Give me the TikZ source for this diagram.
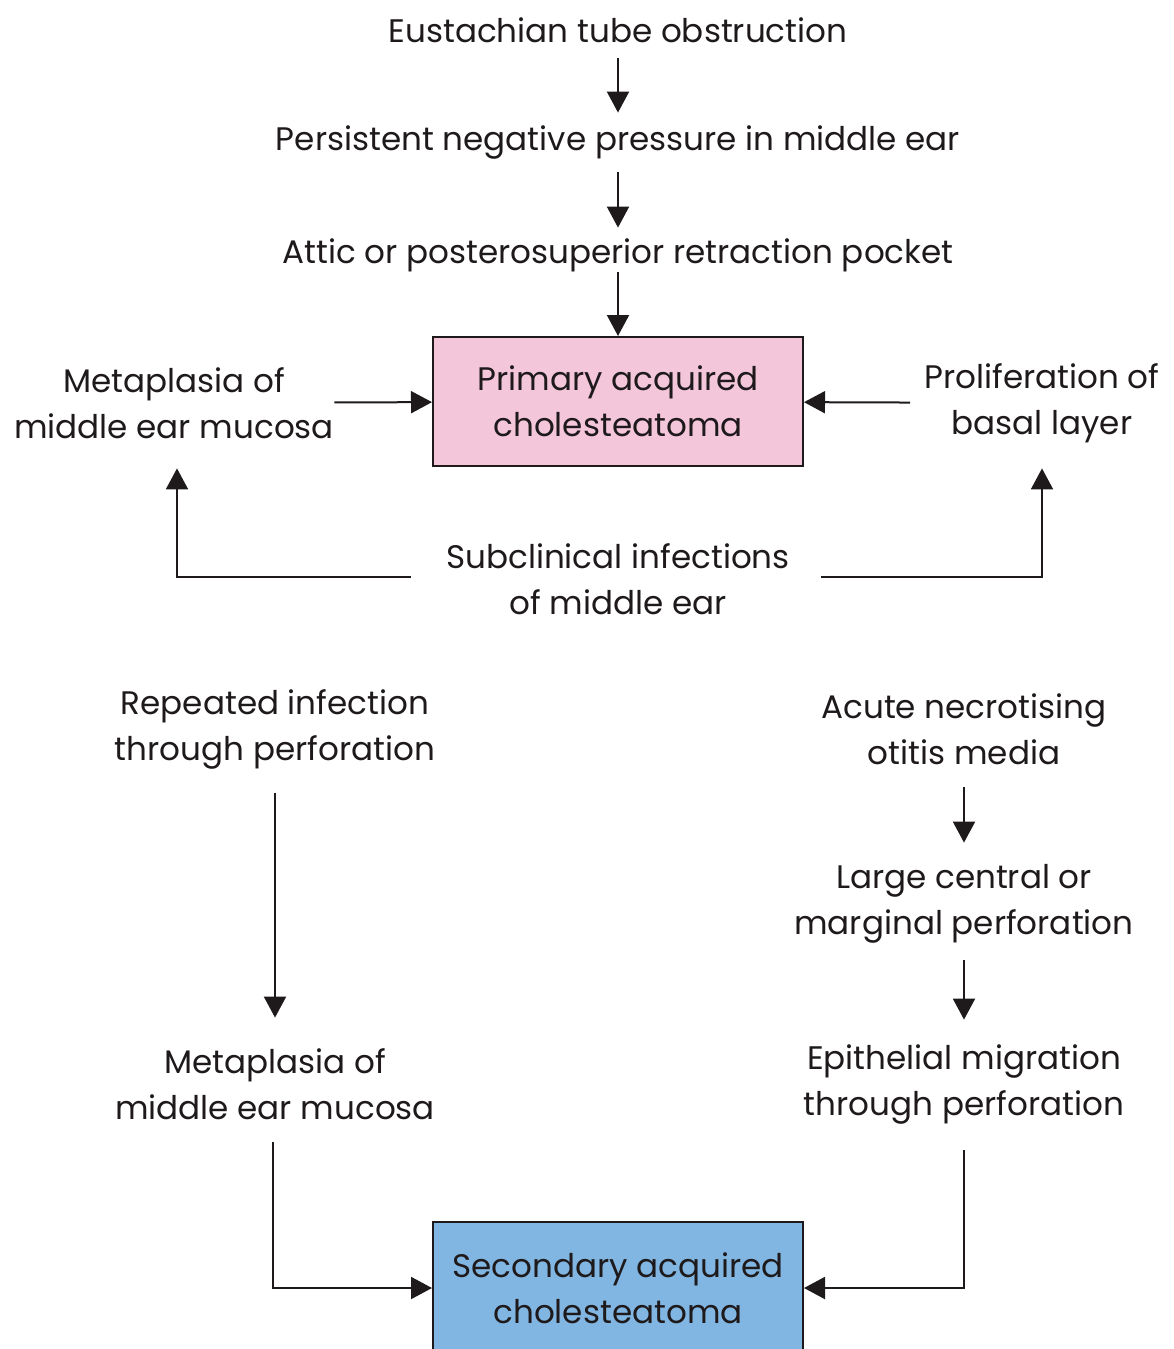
\documentclass[tikz,border=0pt]{standalone}
\usepackage{fontspec}
\setmainfont{Poppins}
\usetikzlibrary{arrows.meta,positioning}
\definecolor{cpink}{HTML}{F4C6DA}
\definecolor{cblue}{HTML}{82B6E2}
\definecolor{cink}{HTML}{1E1A1C}
\tikzset{
  txt/.style={align=center,font=\fontsize{16.3}{23}\selectfont,text=cink,inner sep=0pt,minimum height=23pt},
  txttwo/.style={txt,minimum height=46pt},
  bigbox/.style={draw=cink,line width=1pt,align=center,font=\fontsize{16.3}{23}\selectfont,text=cink,minimum width=185pt,inner sep=0pt},
  arr/.style={-{Triangle[length=10.5pt,width=11pt]},line width=1pt,draw=cink},
}
\begin{document}
\begin{tikzpicture}[x=0.5pt,y=-0.5pt]
  \useasboundingbox (0,0) rectangle (1173,1349);
  % primary pathway
  \node[txt] (eust) at (618,30) {Eustachian tube obstruction};
  \node[txt] (press) at (618,142) {Persistent negative pressure in middle ear};
  \node[txt] (attic) at (618,255) {Attic or posterosuperior retraction pocket};
  \node[bigbox,fill=cpink,minimum height=64.5pt] (prim) at (618,401.5) {Primary acquired\\cholesteatoma};
  \node[txttwo] (metaA) at (174,403) {Metaplasia of\\middle ear mucosa};
  \node[txttwo] (prolif) at (1042,403) {Proliferation of\\basal layer};
  \node[txttwo] (subcl) at (618,579) {Subclinical infections\\of middle ear};
  \draw[arr,shorten <=2.5pt,shorten >=3pt] (eust) -- (press);
  \draw[arr,shorten <=3.5pt,shorten >=2pt] (press) -- (attic);
  \draw[arr,shorten <=-3pt] (attic) -- (prim);
  \draw[arr] (metaA) -- (prim);
  \draw[arr,shorten <=7pt] (prolif) -- (prim);
  \draw[arr,shorten <=17.5pt,shorten >=9.5pt] ([yshift=1pt]subcl.west) -| ([xshift=1.5pt]metaA.south);
  \draw[arr,shorten <=15.5pt,shorten >=9.5pt] ([yshift=1pt]subcl.east) -| (prolif.south);
  % secondary pathway
  \node[txttwo] (repeat) at (275,729) {Repeated infection\\through perforation};
  \node[txttwo] (acute) at (964,729) {Acute necrotising\\otitis media};
  \node[txttwo] (large) at (964,904) {Large central or\\marginal perforation};
  \node[txttwo] (metaB) at (275,1084) {Metaplasia of\\middle ear mucosa};
  \node[txttwo] (epith) at (964,1084) {Epithelial migration\\through perforation};
  \node[bigbox,fill=cblue,minimum height=66pt] (sec) at (618,1288) {Secondary acquired\\cholesteatoma};
  \draw[arr,shorten <=9pt,shorten >=10pt] (repeat) -- (metaB);
  \draw[arr,shorten <=6pt,shorten >=7.5pt] (acute) -- (large);
  \draw[arr,shorten <=5pt,shorten >=9pt] (large) -- (epith);
  \draw[arr,shorten <=6pt] ([xshift=-1pt]metaB.south) |- (sec.west);
  \draw[arr,shorten <=10pt] (epith.south) |- (sec.east);
\end{tikzpicture}
\end{document}
